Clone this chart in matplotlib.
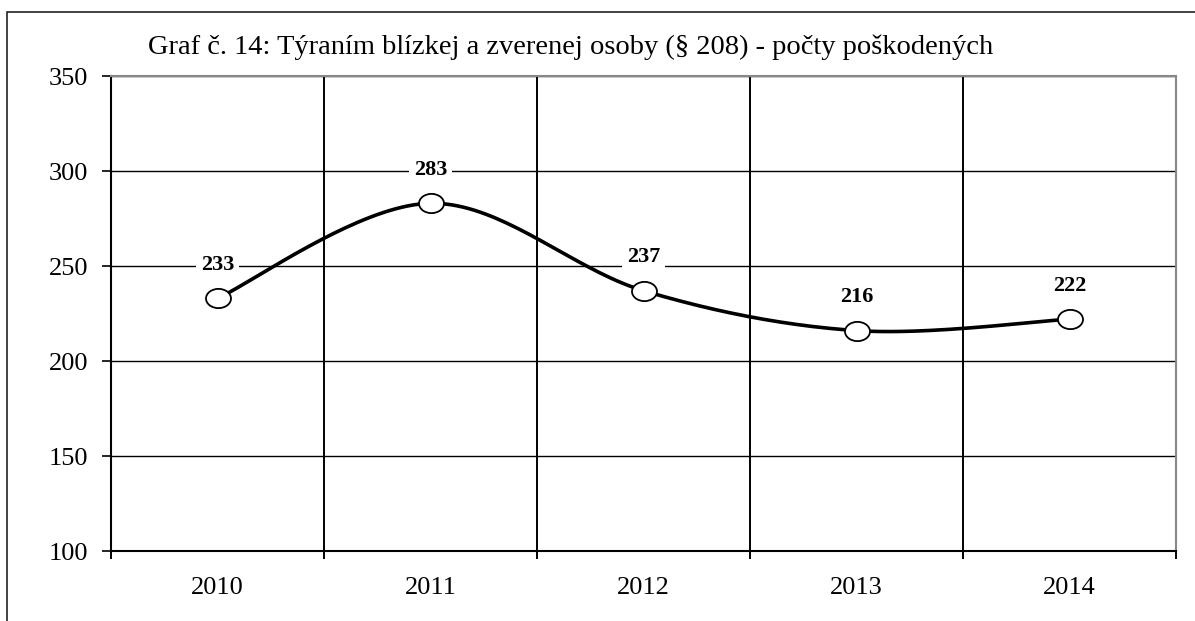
import numpy as np
import matplotlib
matplotlib.use("Agg")
from matplotlib import pyplot as plt
from matplotlib.path import Path
from matplotlib.transforms import Affine2D
from matplotlib.patches import Rectangle

years = ['2010', '2011', '2012', '2013', '2014']
victims = [233, 283, 237, 216, 222]
title = 'Graf č. 14: Týraním blízkej a zverenej osoby (§ 208) - počty poškodených'

plt.rcParams['font.family'] = ['Liberation Serif', 'DejaVu Serif']


def smooth(xs, ys, n=40):
    # excel-like smoothed line: cubic bezier with catmull-rom control points
    pts = np.column_stack([xs, ys]).astype(float)
    ext = np.vstack([pts[0], pts, pts[-1]])
    out = []
    for i in range(len(pts) - 1):
        p0, p3 = ext[i + 1], ext[i + 2]
        p1 = p0 + (ext[i + 2] - ext[i]) / 6
        p2 = p3 - (ext[i + 3] - ext[i + 1]) / 6
        t = np.linspace(0, 1, n)[:, None]
        seg = (1 - t)**3 * p0 + 3 * (1 - t)**2 * t * p1 + 3 * (1 - t) * t**2 * p2 + t**3 * p3
        out.append(seg if i == 0 else seg[1:])
    out = np.vstack(out)
    return out[:, 0], out[:, 1]


fig = plt.figure(figsize=(11.95, 6.21), dpi=100)
ax = fig.add_axes([111 / 1195, 1 - 551 / 621, (1176 - 111) / 1195, (551 - 76) / 621])

x = np.arange(len(years))
sx, sy = smooth(x, victims)
ax.plot(sx, sy, color='black', lw=2.6, zorder=3)

ellipse = Path.unit_circle().transformed(Affine2D().scale(1.3, 1.0))
ax.plot(x, victims, ls='none', marker=ellipse, ms=18, mfc='white', mec='black', mew=1.3, zorder=4)

for xi, v in zip(x, victims):
    ax.annotate(str(v), (xi, v), xytext=(0, 24), textcoords='offset points',
                ha='center', va='center', fontsize=16, fontweight='bold', zorder=5,
                bbox=dict(boxstyle='square,pad=0.2', fc='white', ec='none'))

ax.set_xlim(-0.5, len(years) - 0.5)
ax.set_ylim(100, 350)
ax.set_yticks(range(100, 351, 50))
ax.set_xticks(x)
ax.set_xticklabels(years)
ax.set_xticks(np.arange(-0.5, len(years)), minor=True)

ax.grid(axis='y', color='black', lw=1.0)
ax.grid(axis='x', which='minor', color='black', lw=1.4)
ax.set_axisbelow(True)

ax.tick_params(axis='x', which='major', length=0, pad=19, labelsize=19)
ax.tick_params(axis='x', which='minor', length=6, width=1.4, direction='out')
ax.tick_params(axis='y', length=6.5, width=1.2, pad=10, labelsize=19)

for s in ['left', 'bottom']:
    ax.spines[s].set_linewidth(1.5)
for s in ['top', 'right']:
    ax.spines[s].set_color('#888888')
    ax.spines[s].set_linewidth(1.5)

fig.text(148 / 1195, 1 - 47 / 621, title, ha='left', va='center', fontsize=20.5)

fig.patches.append(Rectangle((7 / 1195, -0.1), 1.2, 1 - 12 / 621 + 0.1, transform=fig.transFigure,
                             fill=False, ec='#222222', lw=1.2))

fig.savefig('out.png', dpi=100)
